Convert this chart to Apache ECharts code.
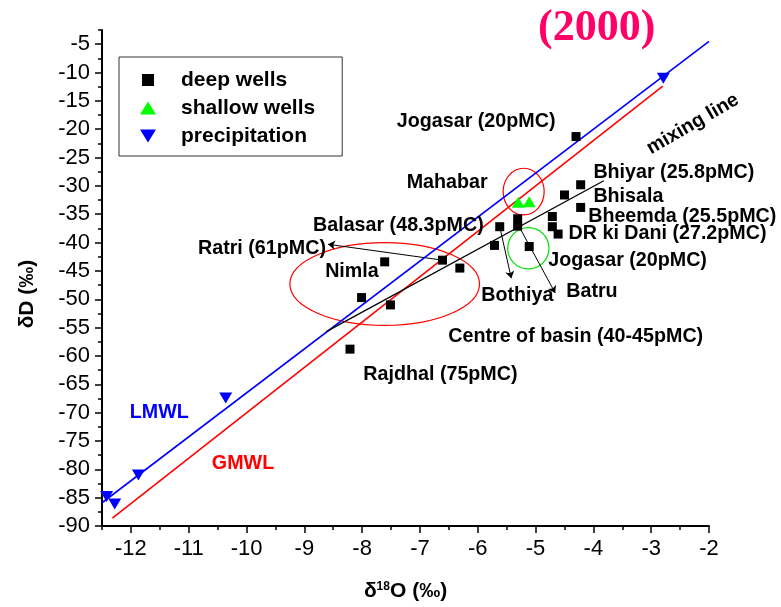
<!DOCTYPE html>
<html><head><meta charset="utf-8">
<script src="https://cdn.jsdelivr.net/npm/echarts@6/dist/echarts.min.js"></script>
<style>html,body{margin:0;padding:0;background:#fff}#c{width:781px;height:607px}</style>
</head><body><div id="c"></div>
<script>
// ---- data ----
const deepWells = [
  [-4.30,-21.3],[-4.22,-29.8],[-4.50,-31.6],[-4.22,-33.8],[-4.71,-35.4],
  [-4.71,-37.2],[-4.61,-38.5],[-5.31,-35.8],[-5.31,-37.1],[-5.62,-37.2],
  [-5.71,-40.5],[-5.11,-40.7],[-6.61,-43.1],[-6.31,-44.5],[-7.61,-43.4],
  [-8.01,-49.7],[-7.51,-51.0],[-8.21,-58.8]
];
const shallowWells = [[-5.30,-32.9],[-5.11,-32.8]];
const precipitation = [[-2.79,-11.0],[-10.36,-67.4],[-11.87,-81.0],[-12.42,-84.8],[-12.28,-86.1]];
const lmwl = [[-12.5,-85.9],[-2.0,-4.5]];
const gmwl = [[-12.32,-88.6],[-2.8,-12.4]];
const mixingLine = [[-8.62,-55.7],[-3.82,-29.1]];
const arrows = [
  [[-6.61,-43.1],[-8.59,-40.3]],
  [[-5.62,-37.2],[-5.42,-46.3]],
  [[-5.31,-36.7],[-4.66,-48.9]]
];
// ellipses: [centre x, centre y, half-width, half-height] in data units
const redEllipses = [[-7.61,-47.3,1.64,7.3],[-5.206,-31.0,0.355,4.11]];
const greenEllipses = [[-5.125,-41.0,0.357,3.65]];
const xTicks = [-12,-11,-10,-9,-8,-7,-6,-5,-4,-3,-2];
const yTicks = [-90,-85,-80,-75,-70,-65,-60,-55,-50,-45,-40,-35,-30,-25,-20,-15,-10,-5];
// annotations: [x, y, text]
const blackNotes = [
  [-7.40,-18.66,'Jogasar (20pMC)'],
  [-7.23,-29.4,'Mahabar'],
  [-4.00,-27.6,'Bhiyar (25.8pMC)'],
  [-4.00,-31.9,'Bhisala'],
  [-4.09,-35.4,'Bheemda (25.5pMC)'],
  [-4.43,-38.4,'DR ki Dani (27.2pMC)'],
  [-4.78,-43.1,'Jogasar (20pMC)'],
  [-5.94,-49.4,'Bothiya'],
  [-4.47,-48.7,'Batru'],
  [-8.85,-37.0,'Balasar (48.3pMC)'],
  [-10.84,-41.0,'Ratri (61pMC)'],
  [-8.64,-45.1,'Nimla'],
  [-6.51,-56.6,'Centre of basin (40-45pMC)'],
  [-7.98,-63.35,'Rajdhal (75pMC)']
];
const blueNotes = [[-12.02,-70.0,'LMWL']];
const redNotes = [[-10.6,-78.9,'GMWL']];
const rotatedNotes = [[-2.28,-19.1,'mixing line']];

const FONT = '"Liberation Sans", Arial, sans-serif';
const DOWN_TRI = 'path://M0,0L12,0L6,10Z';

function ellipseRender(color){
  return function(params, api){
    const c = api.coord([api.value(0), api.value(1)]);
    const s = api.size([api.value(2), api.value(3)]);
    const rx = s[0], ry = s[1];
    const d = 'M'+(c[0]-rx)+','+c[1]+' A'+rx+','+ry+' 0 1 0 '+(c[0]+rx)+','+c[1]+
              ' A'+rx+','+ry+' 0 1 0 '+(c[0]-rx)+','+c[1]+' Z';
    return {type:'path', shape:{pathData:d}, style:{fill:'none', stroke:color, lineWidth:1.2}};
  };
}
function textRender(list, color, rot, align){
  return function(params, api){
    const c = api.coord([api.value(0), api.value(1)]);
    return {type:'text', x:c[0], y:c[1], rotation: rot || 0,
      style:{text:list[params.dataIndex][2], fill:color, align: align||'left', verticalAlign:'middle',
             font:'bold 19.7px '+FONT}};
  };
}

const chart = echarts.init(document.getElementById('c'), null, {renderer:'canvas'});
chart.setOption({
  animation:false,
  backgroundColor:'#fff',
  title:{text:'(2000)', left:533, top:2,
    textStyle:{fontFamily:'"Liberation Serif", "Times New Roman", serif', fontWeight:'bold', fontSize:44, color:'#ff0066'}},
  grid:{left:102, right:72, top:30, bottom:81},
  legend:{
    orient:'vertical', left:119, top:57,
    data:[
      {name:'deep wells', icon:'path://M0,0M16,16M2,2L14,2L14,14L2,14Z'},
      {name:'shallow wells', icon:'path://M0,0M16,16M0,14.5L8,1.5L16,14.5Z'},
      {name:'precipitation', icon:'path://M0,0M16,16M0,1.5L16,1.5L8,14.5Z'}
    ],
    itemWidth:16, itemHeight:16, itemGap:6,
    padding:[12,27,9,21],
    borderColor:'#333', borderWidth:1, borderRadius:0,
    textStyle:{fontFamily:FONT, fontWeight:'bold', fontSize:21, lineHeight:22, color:'#000', padding:[0,0,0,20]}
  },
  xAxis:[{
    type:'value', min:-12.5, max:-2,
    name:'{d|δ}{s|18}{d|O (‰)}', nameLocation:'middle', nameGap:55,
    nameTextStyle:{rich:{d:{fontFamily:FONT, fontWeight:'bold', fontSize:21, color:'#000'},
                          s:{fontFamily:FONT, fontWeight:'bold', fontSize:12, color:'#000', verticalAlign:'top', padding:[0,0,8,0]}}},
    axisLine:{show:true, onZero:false, lineStyle:{color:'#000', width:2}},
    axisTick:{show:true, length:7, lineStyle:{color:'#000', width:1.5}, customValues:xTicks},
    axisLabel:{fontFamily:FONT, fontSize:22, color:'#000', margin:12, customValues:xTicks},
    splitLine:{show:false}
  },{
    type:'value', min:-12.5, max:-2, interval:0.5, position:'bottom',
    axisLine:{show:false, onZero:false},
    axisTick:{show:true, length:4, lineStyle:{color:'#000', width:1.5}},
    axisLabel:{show:false}, splitLine:{show:false}
  }],
  yAxis:[{
    type:'value', min:-90, max:-2.5,
    name:'δD (‰)', nameLocation:'middle', nameGap:64, nameRotate:90,
    nameTextStyle:{fontFamily:FONT, fontWeight:'bold', fontSize:21, color:'#000', padding:[0,32,0,0]},
    axisLine:{show:true, onZero:false, lineStyle:{color:'#000', width:2}},
    axisTick:{show:true, length:7, lineStyle:{color:'#000', width:1.5}, customValues:yTicks},
    axisLabel:{fontFamily:FONT, fontSize:22, color:'#000', margin:12, customValues:yTicks},
    splitLine:{show:false}
  },{
    type:'value', min:-90, max:-2.5, interval:2.5, position:'left',
    axisLine:{show:false, onZero:false},
    axisTick:{show:true, length:4, lineStyle:{color:'#000', width:1.5}},
    axisLabel:{show:false}, splitLine:{show:false}
  }],
  series:[
    {type:'line', name:'LMWL', data:lmwl, showSymbol:false, silent:true, z:3,
     lineStyle:{color:'#0000ff', width:1.6}},
    {type:'line', name:'GMWL', data:gmwl, showSymbol:false, silent:true, z:3,
     lineStyle:{color:'#ff0000', width:1.6}},
    {type:'line', name:'mixing line', data:mixingLine, showSymbol:false, silent:true, z:3,
     lineStyle:{color:'#000', width:1.3}},
    {type:'lines', coordinateSystem:'cartesian2d', data:arrows.map(a=>({coords:a})),
     symbol:['none','arrow'], symbolSize:7, silent:true, z:3,
     lineStyle:{color:'#000', width:1, opacity:1}},
    {type:'custom', name:'red ellipses', data:redEllipses, renderItem:ellipseRender('#ff0000'), silent:true, z:2},
    {type:'custom', name:'green ellipses', data:greenEllipses, renderItem:ellipseRender('#00e000'), silent:true, z:2},
    {type:'scatter', name:'deep wells', data:deepWells, symbol:'rect', symbolSize:9, z:5,
     itemStyle:{color:'#000', opacity:1}},
    {type:'scatter', name:'shallow wells', data:shallowWells, symbol:'triangle', symbolSize:[13,11], z:5,
     itemStyle:{color:'#00ff00', opacity:1}},
    {type:'scatter', name:'precipitation', data:precipitation, symbol:DOWN_TRI, symbolSize:[13,11], z:5,
     itemStyle:{color:'#0000ff', opacity:1}},
    {type:'custom', name:'notes', data:blackNotes, renderItem:textRender(blackNotes,'#000'), silent:true, z:6},
    {type:'custom', name:'lmwl note', data:blueNotes, renderItem:textRender(blueNotes,'#0000ff'), silent:true, z:6},
    {type:'custom', name:'gmwl note', data:redNotes, renderItem:textRender(redNotes,'#ff0000'), silent:true, z:6},
    {type:'custom', name:'mixing note', data:rotatedNotes, renderItem:textRender(rotatedNotes,'#000',Math.PI/6,'center'), silent:true, z:6}
  ]
});
</script></body></html>
